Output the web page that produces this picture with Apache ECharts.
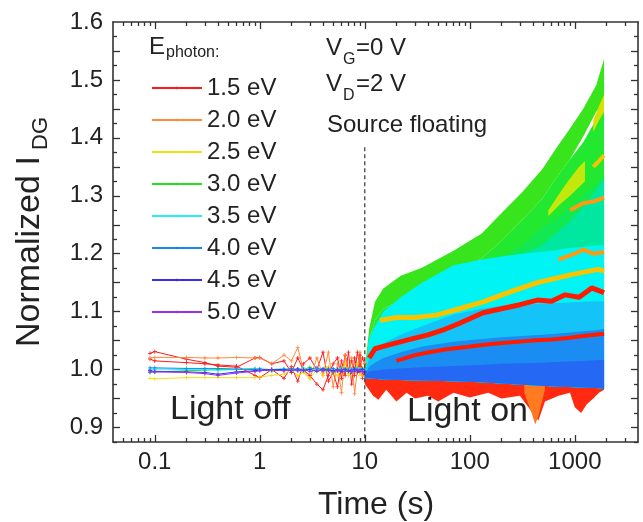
<!DOCTYPE html>
<html>
<head>
<meta charset="utf-8">
<script src="https://cdn.jsdelivr.net/npm/echarts@6/dist/echarts.min.js"></script>
<style>
html, body { margin: 0; padding: 0; background: #fff; }
#main { width: 643px; height: 522px; }
</style>
</head>
<body>
<div id="main"></div>
<script>
var FONT = 'Liberation Sans, Arial, sans-serif';

// legend
var names = ['1.5 eV', '2.0 eV', '2.5 eV', '3.0 eV', '3.5 eV', '4.0 eV', '4.5 eV', '5.0 eV'];
var colors = ['#ff1a1a', '#ff8a3d', '#f0e010', '#22e022', '#22f0f0', '#1a84f0', '#3a2ef0', '#9a2ef0'];

// ticks
var xMajor = [0.1, 1, 10, 100, 1000];
var xMinor = [0.05, 0.06, 0.07, 0.08, 0.09, 0.2, 0.3, 0.4, 0.5, 0.6, 0.7, 0.8, 0.9,
  2, 3, 4, 5, 6, 7, 8, 9, 20, 30, 40, 50, 60, 70, 80, 90,
  200, 300, 400, 500, 600, 700, 800, 900, 2000, 3000];
var yLabels = [0.9, 1.0, 1.1, 1.2, 1.3, 1.4, 1.5, 1.6];
var yMajor = [0.9, 0.95, 1.0, 1.05, 1.1, 1.15, 1.2, 1.25, 1.3, 1.35, 1.4, 1.45, 1.5, 1.55];
var yMinor = [0.875, 0.925, 0.975, 1.025, 1.075, 1.125, 1.175, 1.225, 1.275, 1.325, 1.375, 1.425, 1.475, 1.525, 1.575];

// light off, 0.09 - 10 s
var offT = [0.09, 0.1, 0.2, 0.3, 0.4, 0.6, 0.9, 1, 1.3, 1.7, 2, 2.3, 2.6, 3, 3.5, 4, 4.5, 5, 5.5, 6, 6.5, 7, 7.5, 8, 8.5, 9, 9.5, 10];
var off15a = [1.028, 1.031, 1.018, 1.012, 1.006, 1.004, 1.02, 1.021, 1.01, 1.015, 0.995, 1.02, 1.0, 0.99, 0.975, 0.965, 0.99, 1.01, 1.02, 0.985, 1.025, 1.0, 1.015, 0.99, 1.03, 1.005, 1.02, 1.01];
var off15b = [1.018, 1.015, 1.012, 1.01, 1.008, 1.006, 0.99, 0.986, 1.0, 0.985, 1.005, 0.98, 1.01, 1.02, 1.0, 1.03, 0.98, 0.995, 0.97, 1.015, 0.99, 1.03, 0.975, 1.02, 0.995, 1.025, 0.985, 1.0];
var off20 = [1.02, 1.021, 1.021, 1.02, 1.02, 1.021, 1.02, 1.02, 1.01, 1.025, 1.015, 1.038, 1.0, 0.985, 1.02, 0.99, 1.03, 0.97, 1.01, 0.96, 1.025, 0.99, 1.02, 0.958, 1.0, 1.03, 0.99, 1.01];
var off25 = [0.985, 0.984, 0.986, 0.986, 0.986, 0.986, 0.986, 0.987, 0.99, 0.992, 1.0, 0.99, 0.995, 0.985, 1.0, 0.99, 1.005, 0.995, 0.99, 1.0, 1.01, 0.99, 1.0, 0.995, 1.01, 0.99, 1.0, 1.0];
var off30 = [0.995, 0.996, 0.998, 0.999, 1.0, 1.0, 1.002, 1.0, 0.998, 1.0, 1.002, 0.998, 1.0, 1.004, 0.998, 1.0, 1.002, 0.996, 1.0, 1.003, 0.998, 1.001, 0.997, 1.0, 1.003, 0.999, 1.002, 1.0];
var off35 = [1.0, 1.001, 1.0, 1.0, 0.999, 1.0, 1.001, 1.0, 1.0, 1.002, 0.999, 1.0, 1.003, 0.998, 1.0, 1.002, 0.997, 1.001, 1.0, 1.003, 0.998, 1.0, 1.002, 0.999, 1.003, 1.0, 0.998, 1.0];
var off40 = [1.003, 1.003, 1.002, 1.002, 1.002, 1.001, 1.0, 1.001, 1.0, 0.999, 1.002, 1.0, 0.998, 1.001, 1.003, 0.999, 1.0, 1.002, 0.998, 1.0, 1.001, 0.997, 1.0, 1.002, 0.999, 1.0, 1.001, 0.999];
var off45 = [0.998, 0.997, 0.996, 0.995, 0.992, 0.996, 0.998, 0.999, 1.0, 1.0, 0.998, 1.001, 0.999, 1.0, 0.997, 1.001, 0.999, 0.998, 1.0, 0.997, 1.0, 0.998, 0.996, 1.0, 0.998, 0.997, 1.0, 0.997];
var off50 = [0.996, 0.996, 0.995, 0.993, 0.99, 0.994, 0.997, 0.998, 0.999, 0.998, 1.0, 0.998, 1.0, 0.997, 0.999, 0.998, 1.0, 0.996, 0.998, 1.0, 0.997, 0.999, 0.998, 0.996, 1.0, 0.998, 0.996, 0.995];

// light on, 10 - 1900 s : band edges
var onT = [10, 11, 12.5, 15, 22, 35, 70, 130, 200, 315, 490, 660, 890, 1200, 1600, 1900];
var g1Hi = [1.0, 1.07, 1.117, 1.14, 1.162, 1.176, 1.205, 1.235, 1.27, 1.306, 1.346, 1.381, 1.415, 1.45, 1.491, 1.536];
var g1Lo = [0.99, 1.05, 1.085, 1.105, 1.12, 1.135, 1.162, 1.192, 1.222, 1.258, 1.295, 1.33, 1.362, 1.402, 1.445, 1.465];
var g2Hi = [0.99, 1.05, 1.085, 1.105, 1.12, 1.135, 1.162, 1.192, 1.222, 1.258, 1.295, 1.33, 1.362, 1.392, 1.432, 1.455];
var g3Hi = [0.99, 1.035, 1.065, 1.085, 1.10, 1.115, 1.14, 1.165, 1.19, 1.215, 1.245, 1.26, 1.28, 1.30, 1.32, 1.335];
var mintHi = [0.99, 1.025, 1.05, 1.075, 1.095, 1.115, 1.14, 1.16, 1.18, 1.2, 1.215, 1.235, 1.255, 1.28, 1.31, 1.33];
var cyanHi = [0.99, 1.055, 1.075, 1.10, 1.125, 1.15, 1.18, 1.19, 1.195, 1.2, 1.203, 1.206, 1.21, 1.212, 1.214, 1.215];
var lbHi = [0.99, 1.02, 1.035, 1.045, 1.06, 1.075, 1.095, 1.105, 1.11, 1.112, 1.114, 1.115, 1.116, 1.117, 1.118, 1.118];
var blHi = [0.99, 1.005, 1.012, 1.02, 1.03, 1.04, 1.048, 1.053, 1.056, 1.058, 1.06, 1.062, 1.064, 1.066, 1.068, 1.07];
var dbHi = [0.99, 0.997, 0.998, 1.0, 1.002, 1.004, 1.006, 1.008, 1.01, 1.011, 1.012, 1.013, 1.014, 1.015, 1.016, 1.017];
var onBase = [0.985, 0.985, 0.984, 0.983, 0.982, 0.981, 0.98, 0.978, 0.976, 0.974, 0.972, 0.971, 0.97, 0.969, 0.968, 0.967];

// yellow-green streaks inside the green
var ygAT = [560, 720, 900, 1100, 1250];
var ygAHi = [1.275, 1.305, 1.33, 1.35, 1.36];
var ygALo = [1.265, 1.285, 1.30, 1.315, 1.325];
var ygBT = [1500, 1700, 1900];
var ygBHi = [1.43, 1.455, 1.475];
var ygBLo = [1.41, 1.43, 1.445];

// red / orange noise under the blue
var redT = [10, 12, 13.5, 16, 20, 25, 30, 40, 50, 70, 100, 150, 200, 300, 380, 450, 520, 700, 900, 1000, 1150, 1300, 1500, 1700, 1900];
var redHi = [1.0, 0.995, 0.995, 0.993, 0.992, 0.99, 0.99, 0.99, 0.99, 0.99, 0.988, 0.987, 0.986, 0.985, 0.984, 0.983, 0.982, 0.98, 0.98, 0.978, 0.977, 0.976, 0.975, 0.975, 0.975];
var redLo = [0.975, 0.955, 0.948, 0.965, 0.945, 0.96, 0.95, 0.955, 0.945, 0.96, 0.952, 0.96, 0.95, 0.955, 0.93, 0.912, 0.945, 0.955, 0.96, 0.935, 0.925, 0.94, 0.95, 0.96, 0.965];
var orT = [330, 380, 420, 450, 480, 520];
var orHi = [0.975, 0.975, 0.975, 0.975, 0.975, 0.975];
var orLo = [0.96, 0.93, 0.905, 0.92, 0.94, 0.965];

// streaks on top of the blue
var redAT = [11, 12.5, 15, 20, 28, 40, 55, 80, 134, 200, 300, 440, 600, 810, 1100, 1450, 1900];
var redA = [1.02, 1.036, 1.04, 1.046, 1.053, 1.06, 1.068, 1.08, 1.098, 1.105, 1.112, 1.12, 1.118, 1.129, 1.125, 1.141, 1.133];
var redBT = [20, 22.7, 30, 41, 60, 93, 158, 250, 385, 600, 810, 1200, 1900];
var redB = [1.015, 1.018, 1.025, 1.03, 1.035, 1.039, 1.044, 1.047, 1.05, 1.052, 1.054, 1.058, 1.062];
var goldT = [14, 20, 30, 48, 80, 134, 250, 440, 930, 1670, 1900];
var gold = [1.085, 1.09, 1.09, 1.094, 1.105, 1.117, 1.135, 1.15, 1.164, 1.173, 1.17];
var orLineT = [700, 1000, 1200, 1500, 1900];
var orLine = [1.19, 1.2, 1.207, 1.2, 1.203];
var orHiT = [900, 1200, 1500, 1900];
var orHiLine = [1.275, 1.287, 1.29, 1.297];
var goldHiT = [1500, 1700, 1900];
var goldHi = [1.35, 1.36, 1.37];

// dashed light-on marker
var dashT = [10, 10];
var dashV = [1.384, 0.875];

function pairs(xs, ys) {
  return xs.map(function (x, i) { return [x, ys[i]]; });
}

var PLUS = 'path://M2,0H3V2H5V3H3V5H2V3H0V2H2Z';

function offLine(name, color, ys) {
  return {
    type: 'line', name: name, data: pairs(offT, ys),
    symbol: PLUS, symbolSize: 4, showSymbol: true,
    lineStyle: { color: color, width: 1 }, itemStyle: { color: color },
    silent: true
  };
}

function band(color, xs, hi, lo) {
  return {
    type: 'custom', name: 'band', silent: true, clip: true,
    data: [[xs[0], hi[0]]],
    renderItem: function (params, api) {
      var pts = [];
      for (var i = 0; i < xs.length; i++) pts.push(api.coord([xs[i], hi[i]]));
      for (var j = xs.length - 1; j >= 0; j--) pts.push(api.coord([xs[j], lo[j]]));
      return { type: 'polygon', shape: { points: pts }, style: { fill: color } };
    }
  };
}

function streak(color, xs, ys, w) {
  return {
    type: 'line', name: 'streak', data: pairs(xs, ys), symbol: 'none', silent: true,
    lineStyle: { color: color, width: w }
  };
}

function xAx(pos, ticks, len, line, labels) {
  return {
    type: 'log', logBase: 10, min: 0.04, max: 4000, position: pos,
    axisLine: { show: line, onZero: false, lineStyle: { color: '#333', width: 1.6 } },
    axisTick: { show: true, inside: true, length: len, customValues: ticks, lineStyle: { color: '#333', width: 1.3 } },
    axisLabel: labels ? {
      show: true, customValues: xMajor, margin: 8, color: '#222', fontSize: 24, fontFamily: FONT,
      formatter: function (v) { return String(+(+v).toPrecision(6)); }
    } : { show: false },
    splitLine: { show: false }
  };
}

function yAx(pos, ticks, len, line, labels) {
  return {
    type: 'value', min: 0.875, max: 1.6, position: pos,
    axisLine: { show: line, onZero: false, lineStyle: { color: '#333', width: 1.6 } },
    axisTick: { show: true, inside: true, length: len, customValues: ticks, lineStyle: { color: '#333', width: 1.3 } },
    axisLabel: labels ? {
      show: true, customValues: yLabels, margin: 10, color: '#222', fontSize: 24, fontFamily: FONT,
      formatter: function (v) { return (+v).toFixed(1); }
    } : { show: false },
    splitLine: { show: false }
  };
}

function txt(x, y, s, size, align, rot) {
  return {
    type: 'text', x: x, y: y, z: 100, silent: true, rotation: rot || 0,
    style: { text: s, fill: '#222', fontSize: size, fontFamily: FONT, align: align || 'left', verticalAlign: 'middle' }
  };
}

var series = [
  offLine(names[0], colors[0], off15a),
  offLine(names[0], colors[0], off15b),
  offLine(names[1], colors[1], off20),
  offLine(names[2], colors[2], off25),
  offLine(names[3], colors[3], off30),
  offLine(names[4], colors[4], off35),
  offLine(names[5], colors[5], off40),
  offLine(names[6], colors[6], off45),
  offLine(names[7], colors[7], off50),
  band('#ff2a10', redT, redHi, redLo),
  band('#ff7a20', orT, orHi, orLo),
  band('#38e41c', onT, g1Hi, g1Lo),
  band('#22e830', onT, g2Hi, onBase),
  band('#c4e80c', ygAT, ygAHi, ygALo),
  band('#d8e000', ygBT, ygBHi, ygBLo),
  band('#12e852', onT, g3Hi, onBase),
  band('#00e8a0', onT, mintHi, onBase),
  band('#00f4f4', onT, cyanHi, onBase),
  band('#14c4f8', onT, lbHi, onBase),
  band('#1a8cf2', onT, blHi, onBase),
  band('#2468f4', onT, dbHi, onBase),
  streak('#ff1a00', redAT, redA, 5),
  streak('#ff1a00', redBT, redB, 4),
  streak('#f8c400', goldT, gold, 5),
  streak('#ff9a10', orLineT, orLine, 4),
  streak('#ff9a10', orHiT, orHiLine, 4),
  streak('#f8c400', goldHiT, goldHi, 4),
  {
    type: 'line', name: 'dash', data: pairs(dashT, dashV), symbol: 'none', silent: true, z: 5,
    lineStyle: { color: '#333', width: 1.2, type: [4, 3] }
  }
];

var chart = echarts.init(document.getElementById('main'), null, { renderer: 'canvas' });
chart.setOption({
  animation: false,
  backgroundColor: '#fff',
  grid: { left: 113, right: 5, top: 22, bottom: 80, containLabel: false },
  xAxis: [
    xAx('bottom', xMajor, 7, true, true),
    xAx('bottom', xMinor, 4, false, false),
    xAx('top', xMajor, 7, true, false),
    xAx('top', xMinor, 4, false, false)
  ],
  yAxis: [
    yAx('left', yMajor, 7, true, true),
    yAx('left', yMinor, 4, false, false),
    yAx('right', yMajor, 7, true, false),
    yAx('right', yMinor, 4, false, false)
  ],
  legend: {
    data: names, orient: 'vertical', left: 146, top: 71,
    itemWidth: 50, itemHeight: 4, itemGap: 8,
    lineStyle: { width: 2 },
    textStyle: { fontSize: 24, lineHeight: 24, color: '#222', fontFamily: FONT },
    selectedMode: false
  },
  graphic: [
    txt(149, 47, 'E', 24),
    txt(166, 53, 'photon:', 16),
    txt(326, 48, 'V', 24),
    txt(343, 60, 'G', 16),
    txt(356, 48, '=0 V', 24),
    txt(326, 84, 'V', 24),
    txt(343, 96, 'D', 16),
    txt(356, 84, '=2 V', 24),
    txt(327, 125, 'Source floating', 24),
    txt(170, 410, 'Light off', 34),
    txt(407, 412, 'Light on', 34),
    txt(376, 505, 'Time (s)', 32, 'center'),
    txt(30, 347, 'Normalized I', 34, 'left', Math.PI / 2),
    txt(41, 150, 'DG', 22, 'left', Math.PI / 2)
  ],
  series: series
});
</script>
</body>
</html>
